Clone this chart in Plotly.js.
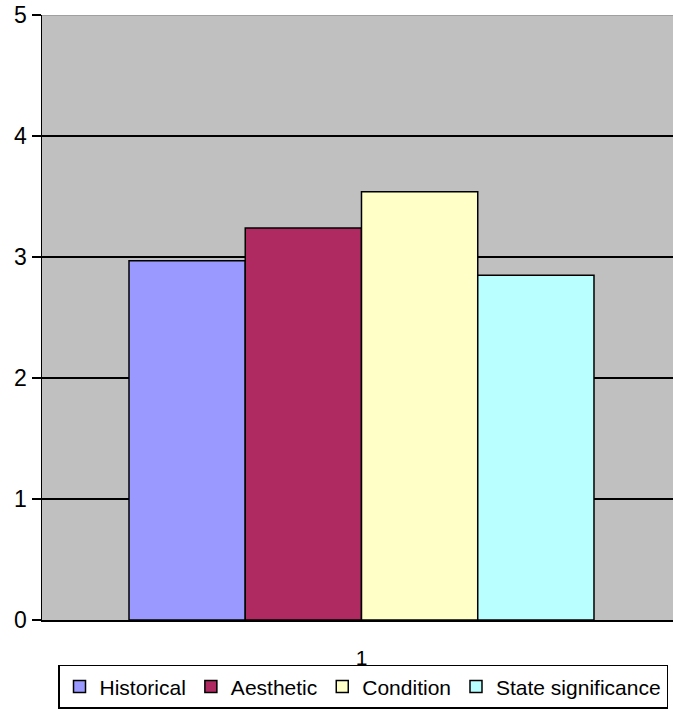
<!DOCTYPE html>
<html>
<head>
<meta charset="utf-8">
<script src="https://cdn.plot.ly/plotly-3.0.1.min.js"></script>
<style>
  html, body { margin: 0; padding: 0; background: #ffffff; overflow: hidden; }
  #chart { width: 673px; height: 709px; }
</style>
</head>
<body>
<div id="chart"></div>
<script>
// Data
const categories = ["1"];
const seriesNames = ["Historical", "Aesthetic", "Condition", "State significance"];
const seriesValues = [[2.97], [3.24], [3.54], [2.85]];
const seriesColors = ["#9999FF", "#B02A62", "#FFFFC8", "#B9FFFF"];
const yTickVals = [0, 1, 2, 3, 4, 5];

const FONT = "Liberation Sans, Arial, sans-serif";

const traces = seriesNames.map((name, i) => ({
  type: "bar",
  name: name,
  x: categories,
  y: seriesValues[i],
  marker: { color: seriesColors[i], line: { color: "#000000", width: 1.5 } },
  hoverinfo: "name+y"
}));

const layout = {
  width: 673,
  height: 709,
  margin: { l: 42, r: 0, t: 15, b: 89 },
  paper_bgcolor: "#ffffff",
  plot_bgcolor: "#C0C0C0",
  barmode: "group",
  bargap: 0.2723,
  bargroupgap: 0,
  font: { family: FONT, color: "#000000" },
  xaxis: {
    type: "category",
    range: [-0.5, 0.4875],
    showgrid: false,
    zeroline: false,
    showline: true,
    linecolor: "#000000",
    linewidth: 1.5,
    ticks: "",
    ticklabelstandoff: 18,
    tickfont: { family: FONT, size: 21, color: "#000000" },
    fixedrange: true
  },
  yaxis: {
    range: [0, 5],
    tickvals: yTickVals,
    ticktext: yTickVals.map(String),
    showgrid: true,
    gridcolor: "#000000",
    gridwidth: 1.5,
    zeroline: false,
    showline: true,
    linecolor: "#000000",
    linewidth: 1.5,
    ticks: "outside",
    ticklen: 9,
    tickwidth: 1.5,
    tickcolor: "#000000",
    ticklabelstandoff: 0,
    tickfont: { family: FONT, size: 23, color: "#000000" },
    fixedrange: true
  },
  shapes: [
    { type: "line", xref: "paper", yref: "y", x0: 0, x1: 1, y0: 5, y1: 5,
      line: { color: "#A0A0A0", width: 2 }, layer: "above" }
  ],
  legend: {
    orientation: "h",
    xref: "container",
    yref: "container",
    x: 0.0862,
    y: 0.0621,
    xanchor: "left",
    yanchor: "top",
    bgcolor: "#ffffff",
    bordercolor: "#000000",
    borderwidth: 1.5,
    font: { family: FONT, size: 21, color: "#000000" },
    traceorder: "normal",
    itemclick: false,
    itemdoubleclick: false
  },
  showlegend: true
};

Plotly.newPlot("chart", traces, layout, { displayModeBar: false, staticPlot: true });
</script>
</body>
</html>
